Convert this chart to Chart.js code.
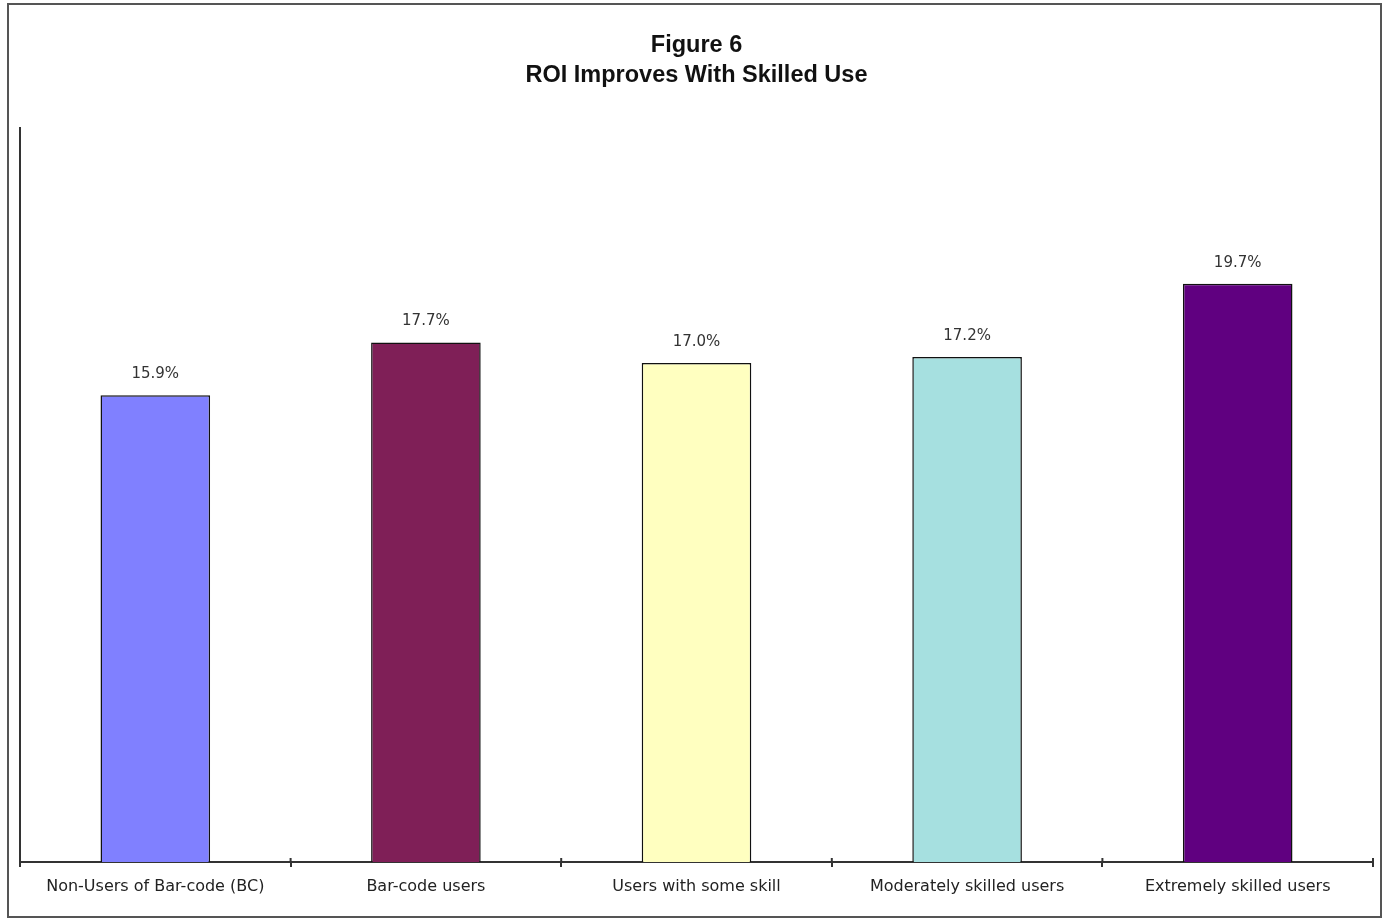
<!DOCTYPE html>
<html>
<head>
<meta charset="utf-8">
<script src="https://cdn.jsdelivr.net/npm/chart.js@4.4.1/dist/chart.umd.min.js"></script>
<style>
html,body{margin:0;padding:0;background:#fff;}
#wrap{position:relative;width:1390px;height:919px;}
.preload{position:absolute;left:-9999px;top:0;}
</style>
</head>
<body>
<span class="preload" style="font:bold 23px 'Liberation Sans'">ROI Improves</span>
<span class="preload" style="font:16px 'DejaVu Sans'">Users 17.0%</span>
<div id="wrap"><canvas id="c" width="1390" height="919"></canvas></div>
<script>
const categories = ["Non-Users of Bar-code (BC)", "Bar-code users", "Users with some skill", "Moderately skilled users", "Extremely skilled users"];
const roiValues = [15.9, 17.7, 17.0, 17.2, 19.7];
const barColors = ["#8080FF", "#7F1F57", "#FFFFC0", "#A6E0E0", "#600080"];
const titleLines = ["Figure 6", "ROI Improves With Skilled Use"];

const TITLE_FONT = "'Liberation Sans', Arial, Helvetica, sans-serif";
const TEXT_FONT = "'DejaVu Sans', Verdana, sans-serif";

const framePlugin = {
  id: 'frame',
  beforeDraw(chart) {
    const ctx = chart.ctx;
    ctx.save();
    ctx.fillStyle = '#fff';
    ctx.fillRect(0, 0, chart.width, chart.height);
    ctx.strokeStyle = '#555';
    ctx.lineWidth = 2;
    ctx.strokeRect(8, 4, 1373, 913);
    ctx.restore();
  }
};

const valueLabels = {
  id: 'valueLabels',
  afterDatasetsDraw(chart) {
    const ctx = chart.ctx;
    const meta = chart.getDatasetMeta(0);
    ctx.save();
    ctx.font = "15px " + TEXT_FONT;
    ctx.fillStyle = '#333';
    ctx.textAlign = 'center';
    ctx.textBaseline = 'middle';
    meta.data.forEach((bar, i) => {
      ctx.fillText(roiValues[i].toFixed(1) + '%', bar.x, bar.y - 21);
    });
    ctx.restore();
  }
};

// small tick stubs above the x axis (the reference ticks cross the axis)
const crossTicks = {
  id: 'crossTicks',
  afterDraw(chart) {
    const xs = chart.scales.x;
    const ctx = chart.ctx;
    const y = chart.chartArea.bottom;
    const n = categories.length;
    const step = xs.getPixelForValue(1) - xs.getPixelForValue(0);
    ctx.save();
    ctx.strokeStyle = '#333';
    ctx.lineWidth = 2;
    for (let i = 0; i <= n; i++) {
      const xp = i < n ? xs.getPixelForValue(i) - step / 2 : xs.getPixelForValue(n - 1) + step / 2;
      ctx.beginPath();
      ctx.moveTo(xp, y - 4);
      ctx.lineTo(xp, y);
      ctx.stroke();
    }
    ctx.restore();
  }
};

function build() {
  new Chart(document.getElementById('c'), {
    type: 'bar',
    data: {
      labels: categories,
      datasets: [{
        data: roiValues,
        backgroundColor: barColors,
        borderColor: '#111',
        borderWidth: 1.5,
        barPercentage: 0.405,
        categoryPercentage: 1.0
      }]
    },
    options: {
      responsive: false,
      animation: false,
      layout: { padding: { left: 20, right: 17, top: 0, bottom: 17 } },
      plugins: {
        legend: { display: false },
        tooltip: { enabled: false },
        title: {
          display: true,
          text: titleLines,
          color: '#111',
          font: { family: TITLE_FONT, size: 23.5, weight: 'bold', lineHeight: 1.28 },
          padding: { top: 30, bottom: 38 }
        }
      },
      scales: {
        x: {
          grid: { display: true, drawOnChartArea: false, drawTicks: true, tickLength: 5, color: '#333', lineWidth: 2, offset: true },
          border: { display: true, color: '#333', width: 2 },
          ticks: { color: '#222', font: { family: TEXT_FONT, size: 16 }, padding: 10, maxRotation: 0, autoSkip: false },
          afterFit(scale) { scale.height = 40; }
        },
        y: {
          min: 0, max: 25,
          grid: { display: false },
          border: { display: true, color: '#333', width: 2 },
          ticks: { display: false },
          afterFit(scale) { scale.width = 0; }
        }
      }
    },
    plugins: [framePlugin, valueLabels, crossTicks]
  });
}

Promise.all([
  document.fonts.load("bold 23px 'Liberation Sans'"),
  document.fonts.load("16px 'DejaVu Sans'")
]).then(build, build);
</script>
</body>
</html>
